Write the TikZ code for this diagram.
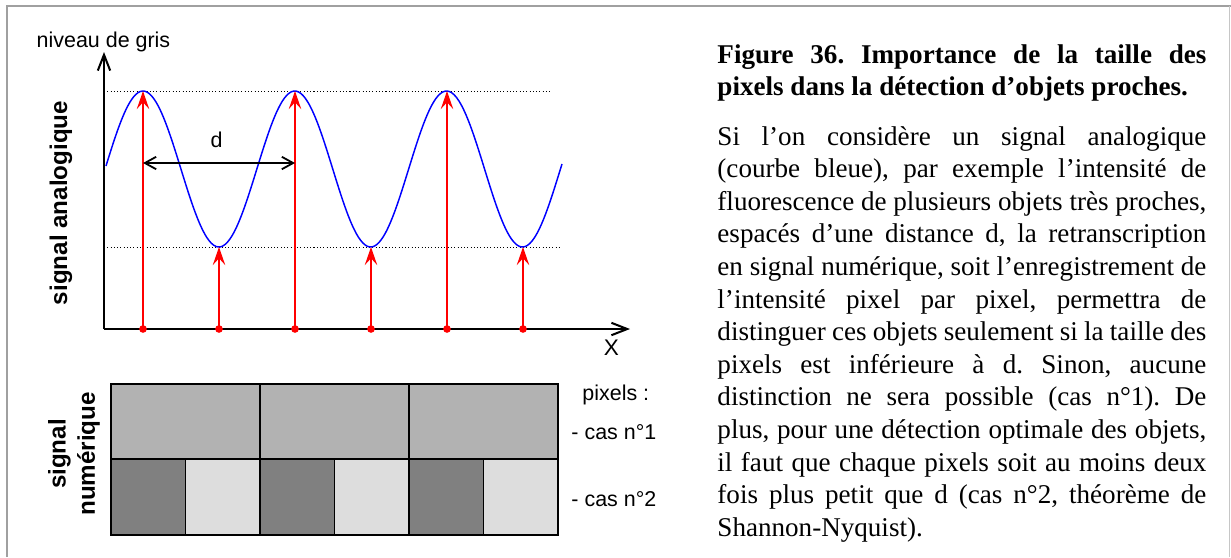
\documentclass[tikz,border=0pt]{standalone}
\usepackage{fontspec}
\setmainfont{Liberation Serif}
\setsansfont{Liberation Sans}
\usetikzlibrary{arrows.meta, positioning, calc}
\definecolor{framegray}{HTML}{A0A0A0}
\definecolor{pixmid}{HTML}{B2B2B2}
\definecolor{pixdark}{HTML}{808080}
\definecolor{pixlight}{HTML}{DDDDDD}
\definecolor{samplered}{HTML}{FF0000}

\begin{document}
\begin{tikzpicture}[x=0.443pt, y=-0.443pt,
        axis/.style={line width=0.9pt, -{Straight Barb[length=7pt, width=5.5pt]}},
        sample/.style={samplered, line width=0.75pt, -{Stealth[length=8pt, width=5.5pt, inset=3pt]}},
        sampledot/.style={circle, fill=samplered, inner sep=0pt, minimum size=3.4pt},
        dimline/.style={line width=0.8pt, {Straight Barb[length=5pt, width=5.5pt]}-{Straight Barb[length=5pt, width=5.5pt]}},
        guide/.style={densely dotted, line width=0.45pt},
        pixbox/.style={draw=black, line width=0.7pt},
        lab/.style={font=\sffamily\fontsize{9.5}{11}\selectfont, inner sep=0pt},
        sidelab/.style={font=\sffamily\bfseries\fontsize{10.7}{13}\selectfont, inner sep=0pt, rotate=90, align=center},
        para/.style={inner sep=0pt, text width=216.6pt, align=justify, font=\fontsize{12}{14.45}\selectfont\frenchspacing}]
        \useasboundingbox (0,0) rectangle (1231,557);

        % Frame
        \draw[framegray, line width=0.9pt] (7,557) -- (7,6) -- (1231,6);
        \draw[framegray!60, line width=0.45pt] (1229,6) -- (1229,557);

        % Axes
        \coordinate (O) at (104,329);
        \coordinate (ytip) at (104,52);
        \coordinate (xtip) at (630,329);
        \draw[axis] (O) -- (ytip);
        \draw[axis] (O) -- (xtip);
        \node[lab, anchor=base] (ylab) at (103.5,47) {niveau de gris};
        \node[lab, anchor=base, font=\sffamily\fontsize{10}{12}\selectfont] (xlab) at (611.5,355) {X};

        % Max and min levels
        \draw[guide] (104,91) -- (550,91);
        \draw[guide] (104,247) -- (560,247);

        % Curve
        \draw[blue, line width=0.65pt] plot[domain=106:562, samples=200, smooth] (\x, {169-78*cos(2.37154*(\x-143))});

        % Samples
        \foreach \i/\xx/\yy in {1/143/91, 2/219/247, 3/295/91, 4/371/247, 5/447/91, 6/523/247} {
            \node[sampledot] (s\i) at (\xx,329) {};
            \coordinate (t\i) at (\xx,\yy);
            \draw[sample, line cap=round] (s\i.center) -- (t\i);
        }

        % Distance d
        \coordinate (dl) at (143,163);
        \coordinate (dr) at (295,163);
        \draw[dimline] (dl) -- (dr);
        \node[lab, anchor=base] (dlab) at (216.5,147) {d};

        % Labels
        \node[sidelab, anchor=base] (analog) at (67,203) {signal analogique};
        \node[sidelab] (numeric) at (74,454) {signal\\numérique};

        % Pixels
        \foreach \i in {0,1,2}
            \filldraw[pixbox, fill=pixmid] (111+149*\i,384) rectangle ++(149,75);
        \foreach \i in {0,2,4} {
            \filldraw[pixbox, fill=pixdark] (111+74.5*\i,459) rectangle ++(74.5,76);
            \filldraw[pixbox, fill=pixlight] (185.5+74.5*\i,459) rectangle ++(74.5,76);
        }
        \node[lab, anchor=base west] (pixlab) at (582,400) {pixels :};
        \node[lab, anchor=base west] (cas1) at (571,439) {- cas n°1};
        \node[lab, anchor=base west] (cas2) at (571,506) {- cas n°2};

        % Caption
        \node[para, anchor=base west] (title) at (717,63) {\textbf{Figure 36. Importance de la taille des\linebreak pixels dans la détection d’objets proches.}};
        \node[para, anchor=base west] (body) at (717,145) {Si l’on considère un signal analogique\linebreak
            (courbe bleue), par exemple l’intensité de\linebreak
            fluorescence de plusieurs objets très proches,\linebreak
            espacés d’une distance d, la retranscription\linebreak
            en signal numérique, soit l’enregistrement de\linebreak
            l’intensité pixel par pixel, permettra de\linebreak
            distinguer ces objets seulement si la taille des\linebreak
            pixels est inférieure à d. Sinon, aucune\linebreak
            distinction ne sera possible (cas n°1). De\linebreak
            plus, pour une détection optimale des objets,\linebreak
            il faut que chaque pixels soit au moins deux\linebreak
            fois plus petit que d (cas n°2, théorème de\linebreak
            Shannon-Nyquist).};
\end{tikzpicture}
\end{document}
